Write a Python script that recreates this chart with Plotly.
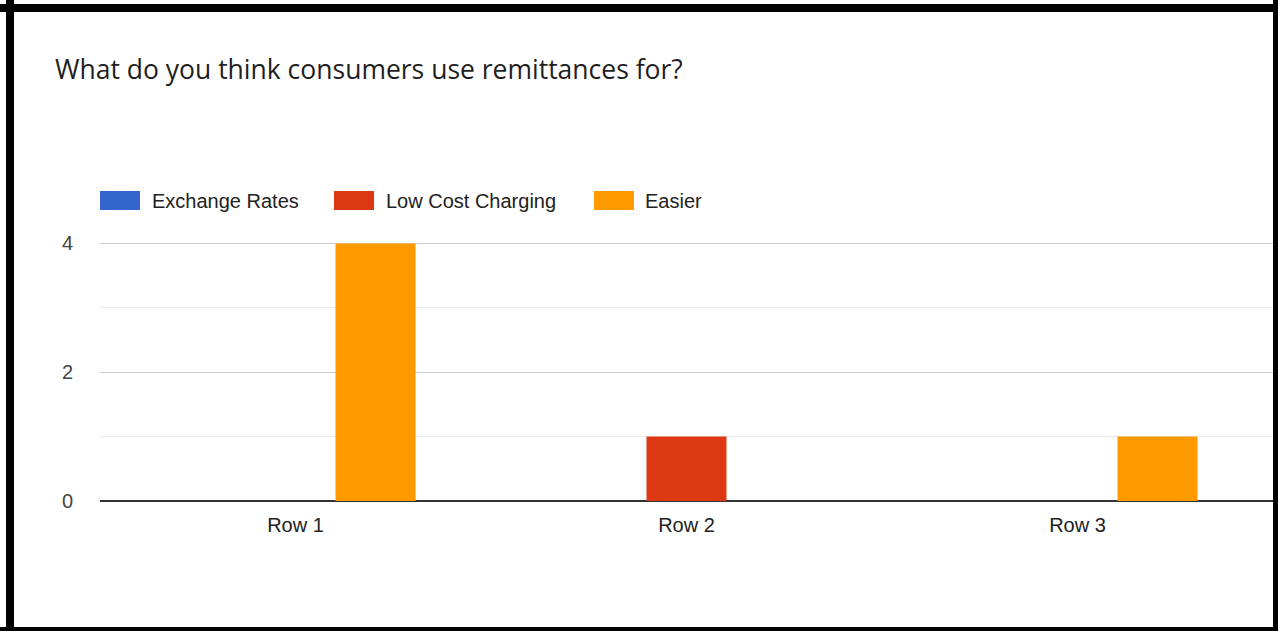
import plotly.graph_objects as go

# Survey responses per row
categories = ["Row 1", "Row 2", "Row 3"]
exchange_rates = [0, 0, 0]
low_cost_charging = [0, 1, 0]
easier = [4, 0, 1]

series_names = ["Exchange Rates", "Low Cost Charging", "Easier"]
series_values = [exchange_rates, low_cost_charging, easier]
series_colors = ["#3366CC", "#DC3912", "#FF9900"]

W, H = 1278, 631
L, R, T, B = 100, 5, 179, 130          # plot area margins in px
PW, PH = W - L - R, H - T - B


def px_x(x):
    return (x - L) / PW


def px_y(y):
    return (H - B - y) / PH


fig = go.Figure()
for name, vals, col in zip(series_names, series_values, series_colors):
    fig.add_trace(go.Bar(
        x=categories, y=vals, name=name,
        marker=dict(color=col, line=dict(width=0)),
        showlegend=False,
    ))

shapes = []
annotations = []

# Legend drawn inside the plot area, above the top major gridline
legend_items = [(100, 150), (334, 384), (594, 643)]
for (sx, tx), name, col in zip(legend_items, series_names, series_colors):
    shapes.append(dict(type="rect", xref="paper", yref="paper",
                       x0=px_x(sx), x1=px_x(sx + 40), y0=px_y(210), y1=px_y(191),
                       fillcolor=col, line=dict(width=0), layer="above"))
    annotations.append(dict(text=name, xref="paper", yref="paper",
                            x=px_x(tx), y=px_y(201), xanchor="left", yanchor="middle",
                            showarrow=False,
                            font=dict(family="Arial, Liberation Sans", size=20, color="#222222")))

# Black frame around the whole chart
frame = [(6, 0, 14, 631), (0, 4, 1278, 12), (1273, 0, 1278, 631), (0, 627, 1278, 631)]
for x0, y0, x1, y1 in frame:
    shapes.append(dict(type="rect", xref="paper", yref="paper",
                       x0=px_x(x0), x1=px_x(x1), y0=px_y(y1), y1=px_y(y0),
                       fillcolor="black", line=dict(width=0), layer="above"))

fig.update_layout(
    width=W, height=H,
    margin=dict(l=L, r=R, t=T, b=B, pad=0),
    paper_bgcolor="white", plot_bgcolor="white",
    barmode="group", bargap=0.386, bargroupgap=0,
    title=dict(text="What do you think consumers use remittances for?",
               x=55 / W, xanchor="left", xref="container",
               y=1 - 70 / H, yanchor="middle", yref="container",
               font=dict(family="Open Sans", size=26.5, color="#1f1f1f")),
    shapes=shapes,
    annotations=annotations,
    font=dict(family="Arial, Liberation Sans", size=20, color="#444444"),
)

fig.update_xaxes(
    showgrid=False, showline=False, zeroline=False,
    ticks="outside", ticklen=6, tickcolor="rgba(0,0,0,0)",
    tickfont=dict(size=20, color="#222222"),
)
fig.update_yaxes(
    range=[0, 5], dtick=2, tick0=0,
    showgrid=True, gridcolor="#cccccc", gridwidth=1,
    minor=dict(dtick=1, tick0=0, showgrid=True, gridcolor="#ebebeb", gridwidth=1),
    zeroline=True, zerolinecolor="#333333", zerolinewidth=1.5,
    showline=False,
    ticks="outside", ticklen=22, tickcolor="rgba(0,0,0,0)",
    tickfont=dict(size=20, color="#444444"),
)

fig.write_html("out.html")
